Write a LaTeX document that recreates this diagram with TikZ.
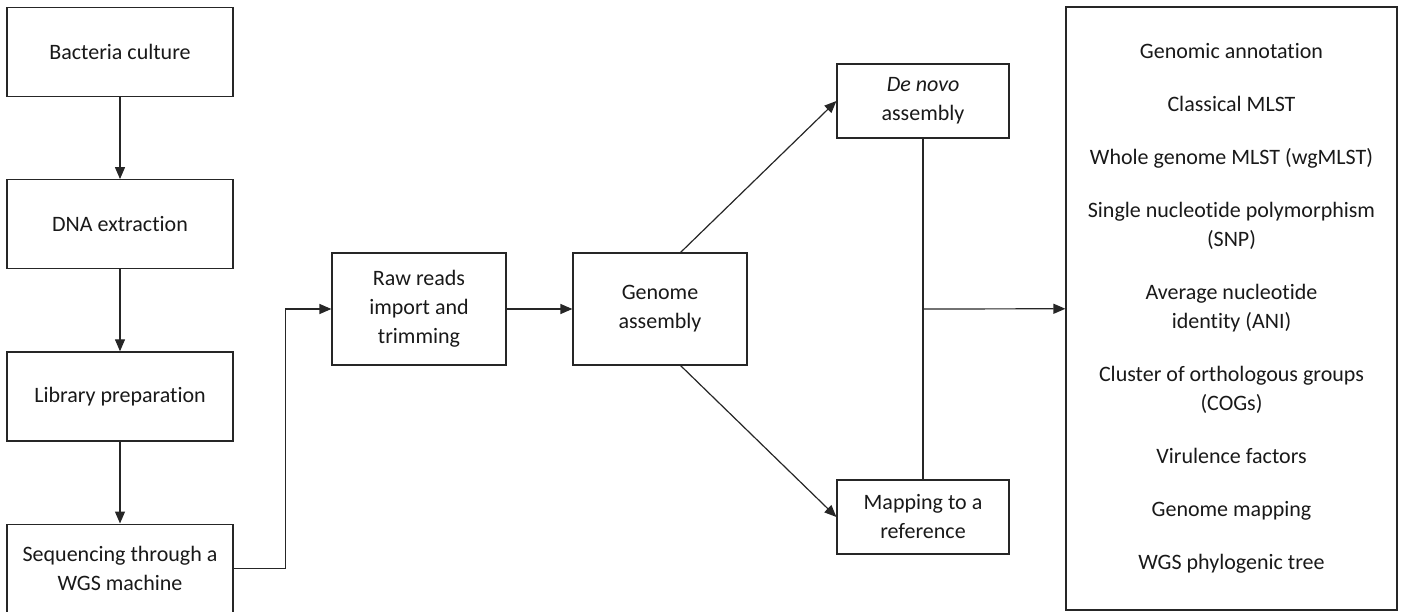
\documentclass[tikz,border=0pt]{standalone}
\usepackage{fontspec}
\setmainfont{Carlito}[Ligatures=NoCommon]
\usepackage{tikz}
\usetikzlibrary{arrows.meta,positioning,calc}

\begin{document}
\begin{tikzpicture}[x=1pt, y=-1pt, ->, >={Triangle[length=12pt,width=10pt]}, line width=1.2pt, draw=black!85,
	every node/.style={font=\fontsize{22}{29}\selectfont, align=center, text=black!90}]
	\tikzstyle{stepbox}=[draw=black!85, line width=1.2pt, inner sep=0pt, minimum width=226pt, minimum height=89pt]
	\tikzstyle{midbox}=[stepbox, minimum width=174pt, minimum height=112pt]
	\tikzstyle{outbox}=[stepbox, minimum width=172pt, minimum height=74pt]
	\useasboundingbox (0,0) rectangle (1402,612);
	% wet lab column
	\node[stepbox]    (bact) at (120,52)      {Bacteria culture};
	\node[stepbox]    (dna)  [below=82pt of bact] {DNA extraction};
	\node[stepbox]    (lib)  [below=82pt of dna]  {Library preparation};
	\node[stepbox]    (seq)  [below=82pt of lib]  {Sequencing through a\\WGS machine};
	% bioinformatics
	\node[midbox]     (raw)    at (419,309)   {Raw reads\\import and\\trimming};
	\node[midbox]     (genome) at (660,309)   {Genome\\assembly};
	\node[outbox]     (denovo) at (923,101)   {\textit{De novo}\\assembly};
	\node[outbox]     (mapping) at (923,517)  {Mapping to a\\reference};
	\node[stepbox, minimum width=331pt, minimum height=603pt] (results) at (1231.5,308.5)
		{Genomic annotation\\[24pt]
		 Classical MLST\\[24pt]
		 Whole genome MLST (wgMLST)\\[24pt]
		 Single nucleotide polymorphism\\(SNP)\\[24pt]
		 Average nucleotide\\identity (ANI)\\[24pt]
		 Cluster of orthologous groups\\(COGs)\\[24pt]
		 Virulence factors\\[24pt]
		 Genome mapping\\[24pt]
		 WGS phylogenic tree};
	\coordinate (join) at (denovo.south |- genome.east);
	\path
	(bact) edge (dna)
	(dna)  edge (lib)
	(lib)  edge (seq)
	(raw)  edge (genome)
	(genome.70)  edge (denovo.west)
	(genome.-70) edge (mapping.west)
	(denovo) edge[-] (mapping)
	(join) edge (results);
	\draw (seq.east) -- ++(52,0) |- (raw.west);
\end{tikzpicture}
\end{document}
